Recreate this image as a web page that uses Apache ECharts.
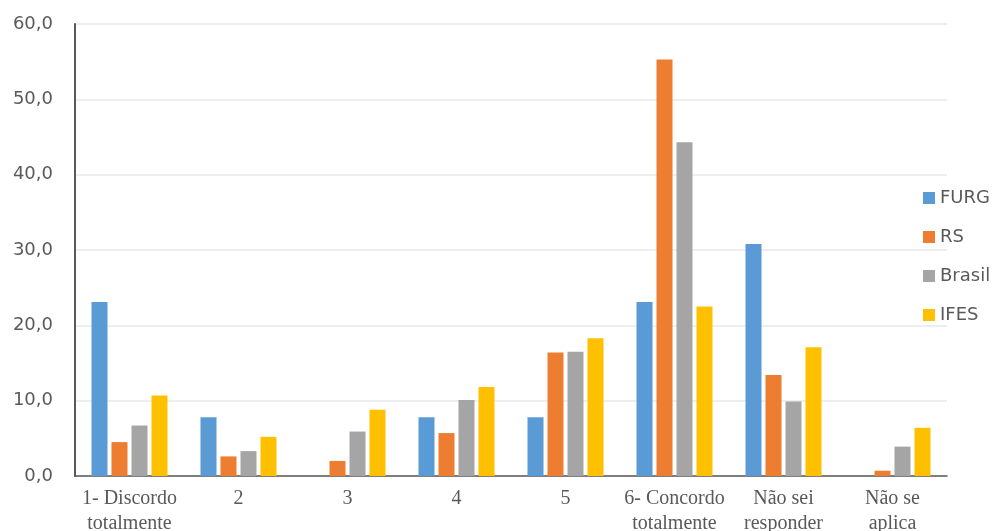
<!DOCTYPE html>
<html>
<head>
<meta charset="utf-8">
<script src="https://cdn.jsdelivr.net/npm/echarts@6/dist/echarts.min.js"></script>
<style>
html,body{margin:0;padding:0;background:#fff;overflow:hidden;}
#chart{width:998px;height:531px;}
</style>
</head>
<body>
<div id="chart"></div>
<script>
var categories = ['1- Discordo\ntotalmente', '2', '3', '4', '5', '6- Concordo\ntotalmente', 'Não sei\nresponder', 'Não se\naplica'];
var seriesNames = ['FURG', 'RS', 'Brasil', 'IFES'];
var furg   = [23.1, 7.8, 0,   7.8,  7.8,  23.1, 30.8, 0];
var rs     = [4.5,  2.6, 2.0, 5.7,  16.4, 55.3, 13.4, 0.7];
var brasil = [6.7,  3.3, 5.9, 10.1, 16.5, 44.3, 9.9,  3.9];
var ifes   = [10.7, 5.2, 8.8, 11.8, 18.3, 22.5, 17.1, 6.4];
var yTicks = { min: 0, max: 60, interval: 10 };
var colors = ['#5B9BD5', '#ED7D31', '#A5A5A5', '#FFC000'];

var allData = [furg, rs, brasil, ifes];
var chart = echarts.init(document.getElementById('chart'));
chart.setOption({
  animation: false,
  backgroundColor: '#ffffff',
  color: colors,
  grid: { left: 75, right: 51, top: 24, bottom: 55, containLabel: false, outerBoundsMode: 'none' },
  legend: {
    orient: 'vertical',
    left: 918,
    top: 184,
    itemWidth: 12,
    itemHeight: 12,
    itemGap: 21,
    icon: 'rect',
    textStyle: { fontFamily: 'DejaVu Sans', fontSize: 18, color: '#595959' },
    data: seriesNames
  },
  xAxis: {
    type: 'category',
    data: categories,
    axisLine: { lineStyle: { color: '#595959', width: 1.5 } },
    axisTick: { show: false },
    axisLabel: {
      interval: 0,
      margin: 10,
      fontFamily: 'Liberation Serif',
      fontSize: 20,
      lineHeight: 25,
      color: '#595959'
    }
  },
  yAxis: {
    type: 'value',
    min: yTicks.min,
    max: yTicks.max,
    interval: yTicks.interval,
    axisLine: { show: true, lineStyle: { color: '#595959', width: 2 } },
    axisTick: { show: false },
    splitLine: { lineStyle: { color: '#e8e8e8', width: 1.5 } },
    axisLabel: {
      margin: 22,
      fontFamily: 'DejaVu Sans',
      fontSize: 18,
      color: '#595959',
      formatter: function (v) { return v.toFixed(1).replace('.', ','); }
    }
  },
  series: seriesNames.map(function (name, i) {
    return {
      name: name,
      type: 'bar',
      data: allData[i],
      barWidth: 16,
      barGap: '25%',
      itemStyle: { color: colors[i] }
    };
  })
});
</script>
</body>
</html>
